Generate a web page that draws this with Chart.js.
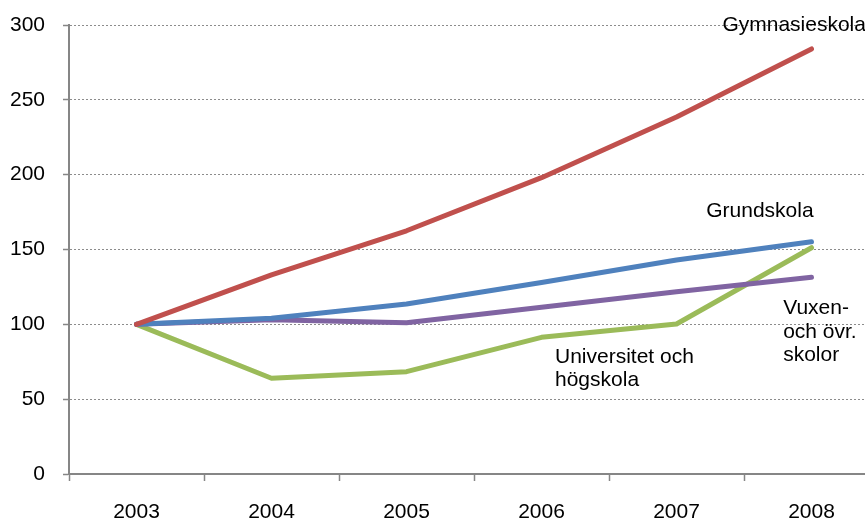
<!DOCTYPE html>
<html>
<head>
<meta charset="utf-8">
<script src="https://cdn.jsdelivr.net/npm/chart.js@4/dist/chart.umd.min.js"></script>
<style>
    html, body { margin: 0; padding: 0; overflow: hidden; background: #fff; }
    #wrap { width: 880px; height: 518px; }
</style>
</head>
<body>
<div id="wrap"><canvas id="myChart" width="880" height="518"></canvas></div>
<script>
var years = ["2003", "2004", "2005", "2006", "2007", "2008"];
var gymnasieskola = [100, 133, 162.5, 198, 238.5, 284];
var grundskola = [100, 104, 113.6, 128, 143, 155.2];
var vuxen = [100, 103, 101, 111.4, 121.8, 131.4];
var universitet = [100, 64, 68.4, 91.3, 100.2, 151.2];
var yTicks = [0, 50, 100, 150, 200, 250, 300];

// text labels placed in data space: [category index, value, lines]
var seriesLabels = [
    { x: 4.34, y: 296, lines: ["Gymnasieskola"] },
    { x: 4.22, y: 171.7, lines: ["Grundskola"] },
    { x: 4.79, y: 106.9, lines: ["Vuxen-", "och övr.", "skolor"] },
    { x: 3.1, y: 74.2, lines: ["Universitet och", "högskola"] },
];

var fontFamily = "'Liberation Sans', Arial, sans-serif";

var labelPlugin = {
    id: "seriesLabels",
    afterDatasetsDraw: function (chart) {
        var ctx = chart.ctx;
        var xs = chart.scales.x;
        var ys = chart.scales.y;
        ctx.save();
        ctx.font = "21px " + fontFamily;
        ctx.fillStyle = "#000";
        ctx.textAlign = "left";
        ctx.textBaseline = "alphabetic";
        seriesLabels.forEach(function (l) {
            var px = xs.getPixelForValue(l.x);
            var py = ys.getPixelForValue(l.y);
            l.lines.forEach(function (t, i) {
                ctx.fillText(t, px, py + i * 23.5);
            });
        });
        ctx.restore();
    },
};

document.addEventListener("DOMContentLoaded", function () {
    var ctx = document.getElementById("myChart").getContext("2d");
    function ds(data, color) {
        return {
            data: data,
            borderColor: color,
            backgroundColor: color,
            borderWidth: 5,
            pointRadius: 0,
            tension: 0,
            borderCapStyle: "round",
            borderJoinStyle: "round",
        };
    }
    // eslint-disable-next-line no-undef,no-new
    new Chart(ctx, {
        type: "line",
        data: {
            labels: years,
            datasets: [
                ds(gymnasieskola, "#C0504D"),
                ds(grundskola, "#4F81BD"),
                ds(vuxen, "#8064A2"),
                ds(universitet, "#9BBB59"),
            ],
        },
        options: {
            responsive: false,
            animation: false,
            layout: { autoPadding: false, padding: { top: 25, right: 1, bottom: 0, left: 0 } },
            plugins: { legend: { display: false }, tooltip: { enabled: false } },
            scales: {
                x: {
                    offset: true,
                    grid: {
                        offset: true,
                        drawOnChartArea: false,
                        drawTicks: true,
                        tickLength: 7,
                        tickColor: "#868686",
                        tickWidth: 1.5,
                    },
                    border: { color: "#868686", width: 2 },
                    ticks: {
                        color: "#000",
                        padding: 19,
                        font: { size: 21, family: fontFamily },
                        maxRotation: 0,
                    },
                    afterFit: function (scale) {
                        scale.height = 44;
                        scale.paddingLeft = 0;
                        scale.paddingRight = 0;
                    },
                },
                y: {
                    min: 0,
                    max: 300,
                    afterBuildTicks: function (scale) {
                        scale.ticks = yTicks.map(function (v) { return { value: v }; });
                    },
                    grid: {
                        color: "#8c8c8c",
                        lineWidth: 1,
                        tickLength: 6,
                        tickColor: "#868686",
                        tickWidth: 1.5,
                        tickBorderDash: [],
                    },
                    border: { color: "#868686", width: 2, dash: [2, 2] },
                    ticks: {
                        color: "#000",
                        padding: 18,
                        font: { size: 21, family: fontFamily },
                    },
                    afterFit: function (scale) {
                        scale.width = 69;
                        scale.paddingTop = 0;
                        scale.paddingBottom = 0;
                    },
                },
            },
        },
        plugins: [labelPlugin],
    });
});
</script>
</body>
</html>
